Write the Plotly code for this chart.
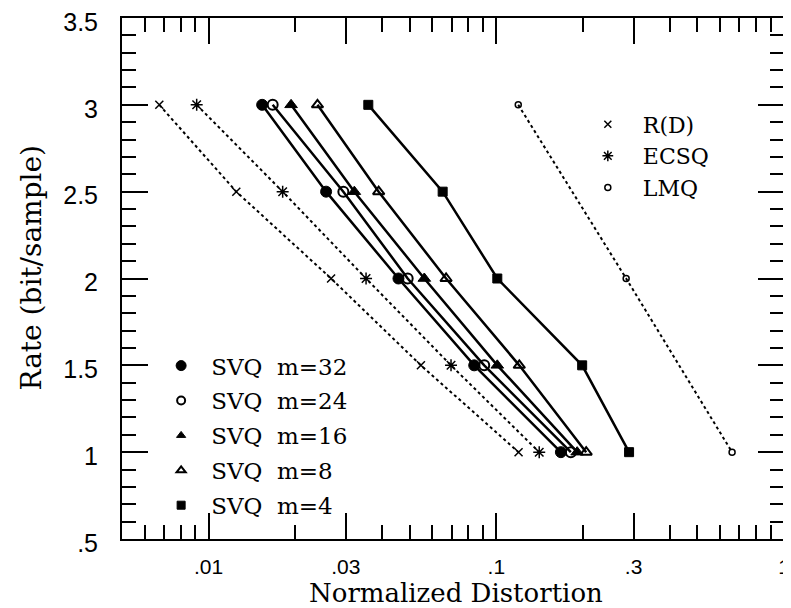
import plotly.graph_objects as go
import math

# ---- data ----
rates = [3, 2.5, 2, 1.5, 1]
rd = [0.00674, 0.01248, 0.02665, 0.0547, 0.1195]
ecsq = [0.00909, 0.01809, 0.03526, 0.0696, 0.1410]
svq32 = [0.01535, 0.02561, 0.0457, 0.0838, 0.1677]
svq24 = [0.0167, 0.0294, 0.0492, 0.0908, 0.1816]
svq16 = [0.01935, 0.0321, 0.0562, 0.1008, 0.191]
svq8 = [0.0239, 0.039, 0.0669, 0.1202, 0.2053]
svq4 = [0.0359, 0.0651, 0.1008, 0.1988, 0.2894]
lmq_rates = [3, 2, 1]
lmq = [0.1192, 0.2827, 0.660]

x_tickvals = [0.01, 0.03, 0.1, 0.3, 1]
x_ticktext = [".01", ".03", ".1", ".3", "1"]
x_minor = [0.006, 0.007, 0.008, 0.009, 0.02, 0.04, 0.05, 0.06, 0.07, 0.08, 0.09,
           0.2, 0.4, 0.5, 0.6, 0.7, 0.8, 0.9]
y_tickvals = [0.5, 1, 1.5, 2, 2.5, 3, 3.5]
y_ticktext = [".5", "1", "1.5", "2", "2.5", "3", "3.5"]

SERIF = "DejaVu Serif"
SANS = "Liberation Sans"
NB = "\u00a0"

fig = go.Figure()

def dotted(x, y, sym, size, lw=1.5):
    fig.add_trace(go.Scatter(x=x, y=y, mode="lines+markers", showlegend=False,
                             line=dict(color="black", width=2, dash="dot"),
                             marker=dict(symbol=sym, size=size, color="black",
                                         line=dict(color="black", width=lw))))

def solid(x, y, sym, size, lw=2):
    fig.add_trace(go.Scatter(x=x, y=y, mode="lines+markers", showlegend=False,
                             line=dict(color="black", width=2.5),
                             marker=dict(symbol=sym, size=size, color="black",
                                         line=dict(color="black", width=lw))))

dotted(rd, rates, "x-thin", 8)
dotted(ecsq, rates, "asterisk", 10)
dotted(lmq, lmq_rates, "circle-open", 6)
solid(svq32, rates, "circle", 11, 1)
solid(svq24, rates, "circle-open", 10, 2)
solid(svq16, rates, "triangle-up", 11, 1)
solid(svq8, rates, "triangle-up-open", 10, 2)
solid(svq4, rates, "square", 9, 1)

# legend-only entries (markers only)
def leg(name, sym, size, lw, legend, group):
    fig.add_trace(go.Scatter(x=[None], y=[None], mode="markers", name=name,
                             legend=legend, legendgroup=group,
                             marker=dict(symbol=sym, size=size, color="black",
                                         line=dict(color="black", width=lw))))

leg("SVQ" + NB * 2 + "m=32", "circle", 10, 1, "legend", "a")
leg("SVQ" + NB * 2 + "m=24", "circle-open", 8, 2, "legend", "b")
leg("SVQ" + NB * 2 + "m=16", "triangle-up", 8, 1, "legend", "c")
leg("SVQ" + NB * 2 + "m=8", "triangle-up-open", 8, 2, "legend", "d")
leg("SVQ" + NB * 2 + "m=4", "square", 8, 1, "legend", "e")
leg("R(D)", "x-thin", 7, 1.5, "legend2", "f")
leg("ECSQ", "asterisk", 9, 1.5, "legend2", "g")
leg("LMQ", "circle-open", 6, 1.5, "legend2", "h")

axis_common = dict(showline=True, linecolor="black", linewidth=2, mirror="allticks",
                   ticks="inside", ticklen=26, tickwidth=1.5, tickcolor="black",
                   showgrid=False, zeroline=False, automargin=False,
                   ticklabeloverflow="allow")

fig.update_layout(
    width=791, height=608,
    margin=dict(l=114, r=15, t=10, b=77),
    paper_bgcolor="white", plot_bgcolor="white",
    xaxis=dict(type="log", range=[math.log10(0.005), 0],
               tickmode="array", tickvals=x_tickvals, ticktext=x_ticktext,
               tickfont=dict(family=SANS, size=21, color="black"),
               ticklabelstandoff=8,
               minor=dict(ticks="inside", ticklen=14, tickwidth=1.5, tickcolor="black",
                          tickvals=x_minor, showgrid=False),
               **axis_common),
    yaxis=dict(range=[0.5, 3.5], tickmode="array", tickvals=y_tickvals, ticktext=y_ticktext,
               tickfont=dict(family=SANS, size=25, color="black"),
               ticklabelstandoff=17, ticklabelshift=4,
               minor=dict(ticks="inside", ticklen=14, tickwidth=1.5, tickcolor="black",
                          dtick=0.1, tick0=0.5, showgrid=False),
               **axis_common),
    annotations=[
        dict(text="Normalized Distortion", xref="paper", yref="paper", x=0.505, y=0,
             xanchor="center", yanchor="top", yshift=-37, showarrow=False,
             font=dict(family=SERIF, size=26, color="black")),
        dict(text="Rate (bit/sample)", xref="paper", yref="paper", x=0, y=0.52,
             xanchor="right", yanchor="middle", xshift=-72, textangle=-90, showarrow=False,
             font=dict(family=SERIF, size=28, color="black")),
    ],
    legend=dict(x=0.044, y=0.374, xanchor="left", yanchor="top",
                bgcolor="rgba(0,0,0,0)", itemwidth=50, tracegroupgap=2,
                font=dict(family=SERIF, size=23, color="black")),
    legend2=dict(x=0.681, y=0.836, xanchor="left", yanchor="top",
                 bgcolor="rgba(0,0,0,0)", itemwidth=60, tracegroupgap=0,
                 font=dict(family=SERIF, size=22, color="black")),
)

fig.write_html("out.html")
